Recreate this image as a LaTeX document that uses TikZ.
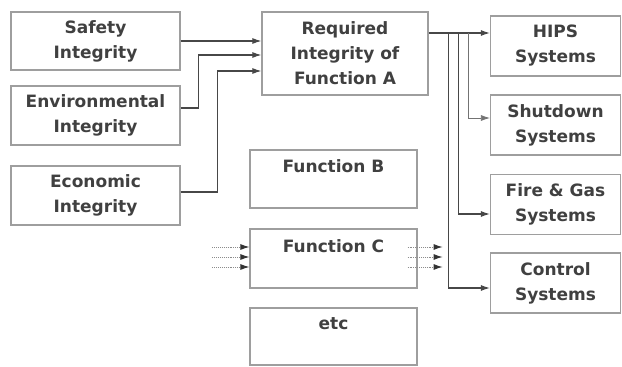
\documentclass[tikz,border=0pt]{standalone}
\usepackage{fontspec}
\setmainfont{DejaVu Sans}
\usetikzlibrary{arrows.meta}
\begin{document}
\begin{tikzpicture}[x=1pt,y=-1pt,
  box/.style={draw=black!38, line width=1.2pt, inner sep=0pt, align=center,
    font=\bfseries\fontsize{17}{25}\selectfont, text=black!75},
  conn/.style={draw=black!72, line width=1.1pt, -{Latex[length=9pt,width=6pt]}},
  dconn/.style={draw=black!45, line width=0.9pt, densely dotted, -{Latex[length=9pt,width=6pt,color=black!80]}}]
\useasboundingbox (0,0) rectangle (622,367);
% left boxes
\node[box, minimum width=169pt, minimum height=58pt] (safety) at (95.5,41) {Safety\\Integrity};
\node[box, minimum width=169pt, minimum height=59pt] (env) at (95.5,115.5) {Environmental\\Integrity};
\node[box, minimum width=169pt, minimum height=59pt] (econ) at (95.5,195.5) {Economic\\Integrity};
% centre boxes
\node[box, minimum width=166pt, minimum height=83pt] (req) at (345,53.5) {Required\\Integrity of\\Function A};
\node[box, minimum width=167pt, minimum height=58pt] (fb) at (333.5,179) {Function B\\\mbox{}};
\node[box, minimum width=167pt, minimum height=59pt] (fc) at (333.5,258.5) {Function C\\\mbox{}};
\node[box, minimum width=167pt, minimum height=57pt] (etc) at (333.5,336.5) {etc\\\mbox{}};
% right boxes
\node[box, minimum width=130pt, minimum height=60pt] (hips) at (555.5,46) {HIPS\\Systems};
\node[box, minimum width=130pt, minimum height=60pt] (shut) at (555.5,125) {Shutdown\\Systems};
\node[box, minimum width=130pt, minimum height=60pt] (fg) at (555.5,204.5) {Fire \& Gas\\Systems};
\node[box, minimum width=130pt, minimum height=60pt] (ctrl) at (555.5,283) {Control\\Systems};
% inputs to Function A
\draw[conn] (safety.east) -- (safety.east -| req.west);
\draw[conn] ([yshift=7.5pt]env.east) -- ++(18,0) |- ([yshift=-1.5pt]req.west);
\draw[conn] ([yshift=3.5pt]econ.east) -- ++(37,0) |- ([yshift=-17.5pt]req.west);
% outputs of Function A
\coordinate (o) at ([yshift=20.5pt]req.east);
\coordinate (b1) at ([xshift=20pt,yshift=20.5pt]req.east);
\coordinate (b2) at ([xshift=30pt,yshift=20.5pt]req.east);
\coordinate (b3) at ([xshift=40pt,yshift=20.5pt]req.east);
\draw[conn] (o) -- ([yshift=13pt]hips.west);
\draw[conn] (b1) |- ([yshift=-5pt]ctrl.west);
\draw[conn] (b2) |- ([yshift=-9.5pt]fg.west);
\draw[conn, line width=0.7pt, draw=black!55] (b3) |- ([yshift=7pt]shut.west);
% Function C dotted arrows
\foreach \d/\n in {11.5/a,1.5/b,-8.5/c}{
  \coordinate (l\n) at ([xshift=-37pt,yshift=\d pt]fc.west);
  \coordinate (li\n) at ([yshift=\d pt]fc.west);
  \coordinate (r\n) at ([xshift=-10pt,yshift=\d pt]fc.east);
  \coordinate (ro\n) at ([xshift=25pt,yshift=\d pt]fc.east);
  \draw[dconn] (l\n) -- (li\n);
  \draw[dconn] (r\n) -- (ro\n);
}
\end{tikzpicture}
\end{document}
